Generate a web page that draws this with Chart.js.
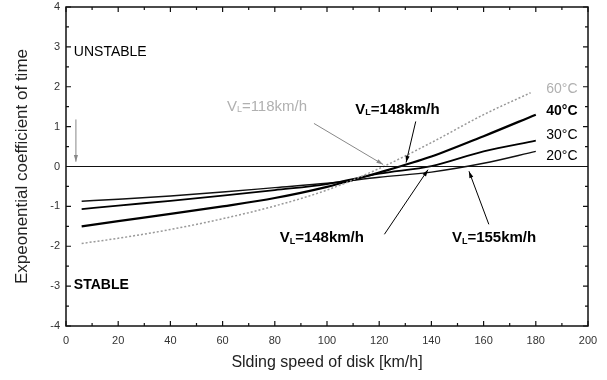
<!DOCTYPE html>
<html>
<head>
<meta charset="utf-8">
<script src="https://cdn.jsdelivr.net/npm/chart.js@4/dist/chart.umd.min.js"></script>
<style>
  html, body { margin: 0; padding: 0; background: #fff; }
  #wrap { width: 607px; height: 380px; }
</style>
</head>
<body>
<div id="wrap"><canvas id="chart"></canvas></div>
<script>
// speeds in km/h, values are exponential coefficients
const speeds = [6, 20, 40, 60, 80, 100, 120, 140, 160, 180];
const speeds60 = [6, 20, 40, 60, 80, 100, 120, 140, 160, 178];
const coef20 = [-0.87, -0.82, -0.74, -0.64, -0.53, -0.42, -0.27, -0.14, 0.08, 0.38];
const coef30 = [-1.07, -0.98, -0.86, -0.73, -0.59, -0.44, -0.18, 0.01, 0.38, 0.65];
const coef40 = [-1.50, -1.37, -1.19, -1.00, -0.79, -0.51, -0.15, 0.25, 0.76, 1.30];
const coef60 = [-1.93, -1.80, -1.58, -1.31, -0.99, -0.59, -0.05, 0.60, 1.30, 1.85];

const xTicks = [0, 20, 40, 60, 80, 100, 120, 140, 160, 180, 200];
const yTicks = [-4, -3, -2, -1, 0, 1, 2, 3, 4];

// curve names at the right end
const curveNames = ['60°C', '40°C', '30°C', '20°C'];
const curveNameY = [1.95, 1.40, 0.78, 0.25];
const curveNameX = 184;

// region labels
const regionText = ['UNSTABLE', 'STABLE'];
const regionY = [2.88, -2.98];
const regionX = 3.0;

// V_L notes: text after the "L", centre x, y
const noteText = ['=118km/h', '=148km/h', '=148km/h', '=155km/h'];
const noteX = [77, 127, 98, 164];
const noteY = [1.5, 1.43, -1.8, -1.8];
// arrows: from -> to, in data units
const arrowFrom = [[95, 1.08], [134, 1.13], [122, -1.70], [162, -1.45], [3.8, 1.18]];
const arrowTo = [[121.5, 0.05], [130.3, 0.10], [138.7, -0.08], [154.4, -0.12], [3.8, 0.12]];

const FONT = '"Liberation Sans", Arial, sans-serif';

function pts(xs, ys) {
    return xs.map((x, i) => ({ x: x, y: ys[i] }));
}

const frameTicks = {
    id: 'frameTicks',
    afterDraw(chart) {
        const ctx = chart.ctx;
        const a = chart.chartArea;
        const xs = chart.scales.x;
        const ys = chart.scales.y;
        ctx.save();
        ctx.strokeStyle = '#111';
        ctx.lineWidth = 1.5;
        ctx.strokeRect(a.left, a.top, a.right - a.left, a.bottom - a.top);
        ctx.lineWidth = 1.2;
        for (let v = 0; v <= 200; v += 10) {
            const p = xs.getPixelForValue(v);
            const len = v % 20 === 0 ? 5 : 3;
            ctx.beginPath();
            ctx.moveTo(p, a.bottom); ctx.lineTo(p, a.bottom - len);
            ctx.moveTo(p, a.top); ctx.lineTo(p, a.top + len);
            ctx.stroke();
        }
        for (let v = -4; v <= 4; v += 0.5) {
            const p = ys.getPixelForValue(v);
            const len = Number.isInteger(v) ? 5 : 3;
            ctx.beginPath();
            ctx.moveTo(a.left, p); ctx.lineTo(a.left + len, p);
            ctx.moveTo(a.right, p); ctx.lineTo(a.right - len, p);
            ctx.stroke();
        }

        // zero line
        ctx.lineWidth = 1.2;
        ctx.beginPath();
        ctx.moveTo(a.left, ys.getPixelForValue(0));
        ctx.lineTo(a.right, ys.getPixelForValue(0));
        ctx.stroke();

        // curve names
        ctx.textBaseline = 'middle';
        ctx.textAlign = 'left';
        curveNames.forEach((t, i) => {
            ctx.fillStyle = i === 0 ? '#b0b0b0' : '#000';
            ctx.font = (i === 1 ? 'bold ' : '') + '14px ' + FONT;
            ctx.fillText(t, xs.getPixelForValue(curveNameX), ys.getPixelForValue(curveNameY[i]));
        });

        // stable / unstable
        regionText.forEach((t, i) => {
            ctx.fillStyle = '#000';
            ctx.font = (i === 1 ? 'bold ' : '') + '14px ' + FONT;
            ctx.fillText(t, xs.getPixelForValue(regionX), ys.getPixelForValue(regionY[i]));
        });

        // arrows
        arrowFrom.forEach((f, i) => {
            const t = arrowTo[i];
            const x1 = xs.getPixelForValue(f[0]), y1 = ys.getPixelForValue(f[1]);
            const x2 = xs.getPixelForValue(t[0]), y2 = ys.getPixelForValue(t[1]);
            const gray = i === 0 || i === 4;
            ctx.strokeStyle = gray ? '#888' : '#000';
            ctx.fillStyle = gray ? '#888' : '#000';
            ctx.lineWidth = 1;
            ctx.beginPath();
            ctx.moveTo(x1, y1); ctx.lineTo(x2, y2);
            ctx.stroke();
            const ang = Math.atan2(y2 - y1, x2 - x1);
            ctx.beginPath();
            ctx.moveTo(x2, y2);
            ctx.lineTo(x2 - 7 * Math.cos(ang - 0.3), y2 - 7 * Math.sin(ang - 0.3));
            ctx.lineTo(x2 - 7 * Math.cos(ang + 0.3), y2 - 7 * Math.sin(ang + 0.3));
            ctx.closePath();
            ctx.fill();
        });

        // V_L notes
        noteText.forEach((t, i) => {
            const gray = i === 0;
            const weight = gray ? '' : 'bold ';
            ctx.fillStyle = gray ? '#b0b0b0' : '#000';
            ctx.font = weight + '15px ' + FONT;
            const wV = ctx.measureText('V').width;
            const wT = ctx.measureText(t).width;
            ctx.font = weight + '9px ' + FONT;
            const wL = ctx.measureText('L').width;
            const total = wV + wL + wT;
            const px = xs.getPixelForValue(noteX[i]) - total / 2;
            const py = ys.getPixelForValue(noteY[i]);
            ctx.textAlign = 'left';
            ctx.font = weight + '15px ' + FONT;
            ctx.fillText('V', px, py);
            ctx.font = weight + '9px ' + FONT;
            ctx.fillText('L', px + wV, py + 3);
            ctx.font = weight + '15px ' + FONT;
            ctx.fillText(t, px + wV + wL, py);
        });
        ctx.restore();
    }
};

const ctx = document.getElementById('chart');
new Chart(ctx, {
    type: 'line',
    data: {
        datasets: [
            { label: '60°C', data: pts(speeds60, coef60), borderColor: '#999', borderWidth: 1.5, borderDash: [2, 2] },
            { label: '40°C', data: pts(speeds, coef40), borderColor: '#000', borderWidth: 2.2 },
            { label: '30°C', data: pts(speeds, coef30), borderColor: '#000', borderWidth: 1.8 },
            { label: '20°C', data: pts(speeds, coef20), borderColor: '#111', borderWidth: 1.4 }
        ]
    },
    options: {
        responsive: true,
        maintainAspectRatio: false,
        animation: false,
        layout: { padding: { top: 7, right: 19, left: 0, bottom: 0 } },
        elements: {
            point: { radius: 0 },
            line: { tension: 0.3, cubicInterpolationMode: 'monotone' }
        },
        plugins: {
            legend: { display: false },
            tooltip: { enabled: false }
        },
        scales: {
            x: {
                type: 'linear',
                min: 0,
                max: 200,
                afterBuildTicks: s => { s.ticks = xTicks.map(v => ({ value: v })); },
                afterFit: s => { s.height = 54; s.paddingLeft = 0; s.paddingRight = 0; },
                grid: { display: false, drawTicks: false },
                border: { display: false },
                ticks: { color: '#333', padding: 8, font: { size: 11, family: FONT } },
                title: {
                    display: true,
                    text: 'Slding speed of disk [km/h]',
                    color: '#222',
                    padding: { top: 0, bottom: 8 },
                    font: { size: 16, family: FONT }
                }
            },
            y: {
                min: -4,
                max: 4,
                afterBuildTicks: s => { s.ticks = yTicks.map(v => ({ value: v })); },
                afterFit: s => { s.width = 66; s.paddingTop = 0; s.paddingBottom = 0; },
                grid: { display: false, drawTicks: false },
                border: { display: false },
                ticks: { color: '#333', padding: 6, font: { size: 11, family: FONT } },
                title: {
                    display: true,
                    text: 'Expeonential coefficient of time',
                    color: '#222',
                    padding: { top: 12, bottom: 0 },
                    font: { size: 17, family: FONT }
                }
            }
        }
    },
    plugins: [frameTicks]
});
</script>
</body>
</html>
